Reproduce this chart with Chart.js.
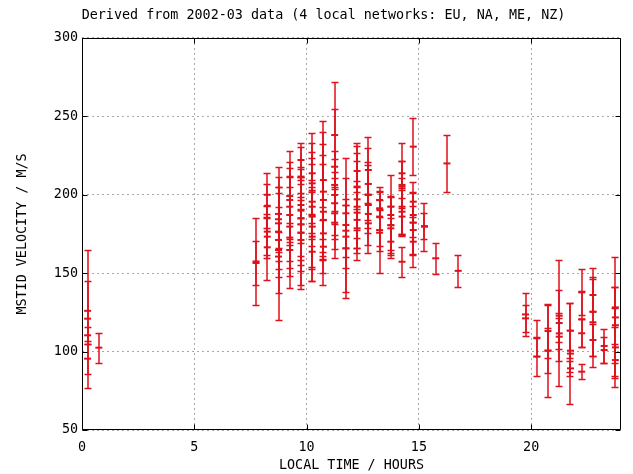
<!DOCTYPE html>
<html><head><meta charset="utf-8">
<script src="https://cdn.jsdelivr.net/npm/chart.js@4.4.1/dist/chart.umd.min.js"></script>
<style>html,body{margin:0;padding:0;background:#fff;}</style>
</head><body>
<canvas id="c" width="633" height="474"></canvas>
<script>
const chartTitle = 'Derived from 2002-03 data (4 local networks: EU, NA, ME, NZ)';
const xTitle = 'LOCAL TIME / HOURS';
const yTitle = 'MSTID VELOCITY / M/S';
const xTicks = [0, 5, 10, 15, 20];
const yTicks = [50, 100, 150, 200, 250, 300];

// local time (hours), velocity (m/s), error (m/s)
const hours = [
  0.25,0.25,0.25,0.25,
  0.75,
  7.75,7.75,
  8.25,8.25,8.25,8.25,8.25,
  8.75,8.75,8.75,8.75,8.75,8.75,8.75,
  9.25,9.25,9.25,9.25,9.25,9.25,9.25,
  9.75,9.75,9.75,9.75,9.75,9.75,9.75,9.75,9.75,9.75,
  10.25,10.25,10.25,10.25,10.25,10.25,10.25,10.25,10.25,
  10.75,10.75,10.75,10.75,10.75,10.75,10.75,
  11.25,11.25,11.25,11.25,11.25,11.25,11.25,
  11.75,11.75,11.75,11.75,11.75,
  12.25,12.25,12.25,12.25,12.25,12.25,12.25,
  12.75,12.75,12.75,12.75,12.75,12.75,
  13.25,13.25,13.25,13.25,13.25,
  13.75,13.75,13.75,13.75,13.75,
  14.25,14.25,14.25,14.25,14.25,14.25,14.25,
  14.75,14.75,14.75,14.75,14.75,14.75,
  15.25,15.25,
  15.75,
  16.25,
  16.75,
  19.75,19.75,
  20.25,20.25,
  20.75,20.75,20.75,
  21.25,21.25,21.25,21.25,
  21.75,21.75,21.75,21.75,
  22.25,22.25,22.25,22.25,
  22.75,22.75,22.75,22.75,
  23.25,23.25,
  23.75,23.75,23.75,23.75,23.75
];
const velocity = [
  121,126,110.4,95.5,
  102.5,
  157.5,156.5,
  200,166.5,193,173.3,176.5,
  187.8,164.8,160.6,181.8,176.5,171.2,184.4,
  199.2,187.1,172.7,179.7,192.4,164.8,196.7,
  222.2,185,193.5,175.8,181.2,185,175.8,171.2,189.9,211.6,
  213.7,202.6,173.3,163.7,195.6,186.1,179.7,192.4,207.3,
  209.4,184,175.4,202,189.2,196.7,166.9,
  238.1,206.3,182.2,217.9,199.9,188.2,194.6,
  180.7,165.9,188.2,173.3,177.1,
  205.2,197.1,192.4,184,215.2,188.6,178.6,
  215.8,206.9,181.8,199.9,193.5,187.8,
  186.1,196.7,175.8,177.5,191.4,
  187.1,180.7,170.1,178.6,192.4,
  204.1,206.3,192.4,189.2,213.7,157.3,186.1,
  230.7,195.6,182.2,170.1,187.1,177.5,
  179.7,180,
  159.5,
  220,
  151.5,
  123.7,121.2,
  96.8,108.5,
  113.1,100.6,100.6,
  118.2,122.9,109.5,111.6,
  98.7,113.3,100.6,89.3,
  137.8,120.6,87.2,111.7,
  125.3,118.7,136.1,107.4,
  103.6,101,
  121.8,128.2,102.7,94.6,116.8
];
const errors = [
  44,19,5.6,9.5,
  9.5,
  28,14,
  14,21,14,12,16.5,
  30,27.6,40.4,29.4,28.7,5,20.8,
  29,34,32.3,31.5,24.5,7.2,15,
  10.6,45.3,24,33.6,20,26.6,20.6,19.8,8.5,5,
  25.9,30.7,28.3,18.5,28,33.5,25.5,17,20,
  37.7,41.5,17,38.3,30.3,36,17,
  34.1,16.4,22.7,36.6,28,22.7,20.2,
  42.6,31.5,22.3,20,16.6,
  27.6,34,34,18,6.6,16.4,12.4,
  20.8,22.7,18.7,21.2,25.5,12.4,
  18.7,5.8,25.9,13.1,5.3,
  25.5,18.1,10.6,14,7,
  28.8,15,18.4,14,8,9.6,11.7,
  18.1,12.8,19.7,15.9,14.2,15.6,
  15.3,8.5,
  9.8,
  18,
  10.3,
  13.5,8.5,
  12.2,11.6,
  17.3,14.5,29.3,
  40.2,16.5,15.3,10,
  32.1,17.5,13.4,5,
  14.7,17.9,4.9,9,
  27.8,28.8,10,10,
  10.6,8.5,
  38.7,12.8,25.3,10.1,24.2
];

const RED = 'rgb(222,18,28)';
const FONT = { family: "'DejaVu Sans Mono', 'Liberation Mono', monospace", size: 13.4 };

const errorBars = {
  id: 'errorBars',
  afterDatasetsDraw(chart) {
    const { ctx, scales: { x, y } } = chart;
    ctx.save();
    ctx.setLineDash([]);
    ctx.globalAlpha = 1;
    ctx.strokeStyle = RED;
    ctx.lineWidth = 1.5;
    hours.forEach((h, i) => {
      const px = Math.round(x.getPixelForValue(h));
      const top = Math.round(y.getPixelForValue(velocity[i] + errors[i])) + 0.5;
      const bot = Math.round(y.getPixelForValue(velocity[i] - errors[i])) + 0.5;
      ctx.beginPath();
      ctx.moveTo(px, top); ctx.lineTo(px, bot);
      ctx.moveTo(px - 3.5, top); ctx.lineTo(px + 3.5, top);
      ctx.moveTo(px - 3.5, bot); ctx.lineTo(px + 3.5, bot);
      ctx.stroke();
    });
    ctx.beginPath();
    ctx.restore();
  }
};

const frame = {
  id: 'frame',
  afterDraw(chart) {
    const { ctx, chartArea: a, scales: { x, y } } = chart;
    const L = Math.round(a.left) + 0.5, R = Math.round(a.right) - 0.5;
    const T = Math.round(a.top) + 0.5, B = Math.round(a.bottom) - 0.5;
    ctx.save();
    ctx.setLineDash([]);
    ctx.strokeStyle = '#000';
    ctx.lineWidth = 1;
    ctx.beginPath();
    ctx.rect(L, T, R - L, B - T);
    xTicks.forEach(v => {
      const px = Math.round(x.getPixelForValue(v)) + 0.5;
      ctx.moveTo(px, B); ctx.lineTo(px, B - 5);
      ctx.moveTo(px, T); ctx.lineTo(px, T + 5);
    });
    yTicks.forEach(v => {
      const py = Math.round(y.getPixelForValue(v)) + 0.5;
      ctx.moveTo(L, py); ctx.lineTo(L + 5, py);
      ctx.moveTo(R, py); ctx.lineTo(R - 5, py);
    });
    ctx.stroke();
    ctx.beginPath();
    ctx.restore();
  }
};

new Chart(document.getElementById('c'), {
  type: 'scatter',
  data: {
    datasets: [{
      data: hours.map((h, i) => ({ x: h, y: velocity[i] })),
      pointStyle: 'line',
      pointRadius: 3.5,
      pointBorderWidth: 2,
      pointBorderColor: RED,
      pointBackgroundColor: RED,
      pointHoverRadius: 3.5
    }]
  },
  options: {
    responsive: false,
    animation: false,
    devicePixelRatio: 1,
    events: [],
    layout: { padding: { left: 14, right: 0, top: 0, bottom: 0 } },
    plugins: {
      legend: { display: false },
      tooltip: { enabled: false },
      title: {
        display: true, text: chartTitle, color: '#000',
        font: Object.assign({}, FONT, { weight: 'normal' }),
        padding: { top: 7, bottom: 14.9 }
      }
    },
    scales: {
      x: {
        type: 'linear', min: 0, max: 24,
        afterBuildTicks: s => { s.ticks = xTicks.map(v => ({ value: v })); },
        afterFit: s => { s.height = 44; },
        ticks: { color: '#000', font: FONT, padding: 9, maxRotation: 0 },
        grid: { color: '#a8a8a8', lineWidth: 1, drawTicks: false },
        border: { display: false, dash: [2, 3] },
        title: { display: true, text: xTitle, color: '#000', font: FONT, padding: { top: 0, bottom: 0 } }
      },
      y: {
        type: 'linear', min: 50, max: 300,
        afterBuildTicks: s => { s.ticks = yTicks.map(v => ({ value: v })); },
        afterFit: s => { s.width = 68; },
        ticks: { color: '#000', font: FONT, padding: 4 },
        grid: { color: '#a8a8a8', lineWidth: 1, drawTicks: false },
        border: { display: false, dash: [2, 3] },
        title: { display: true, text: yTitle, color: '#000', font: FONT, padding: { top: 0, bottom: 0 } }
      },
      y2: {
        type: 'linear', position: 'right', min: 50, max: 300,
        afterFit: s => { s.width = 12; },
        ticks: { display: false },
        grid: { display: false, drawTicks: false },
        border: { display: false }
      }
    }
  },
  plugins: [errorBars, frame]
});
</script>
</body></html>
